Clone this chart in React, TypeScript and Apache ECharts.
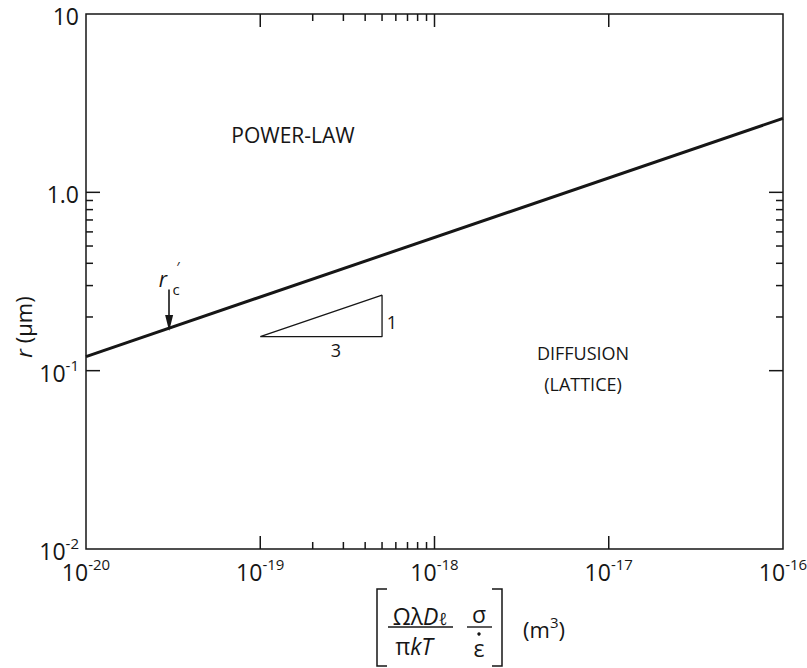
import React, { useEffect, useRef } from "react";
import * as echarts from "echarts";

const X_MIN = 1e-20;
const X_MAX = 1e-16;
const Y_MIN = 1e-2;
const Y_MAX = 10;

// boundary line r'c (slope 1/3 on log-log)
const boundaryLine: [number, number][] = [
  [1e-20, 0.12],
  [1e-16, 2.6],
];

// slope triangle 3 : 1
const slopeTriangle: [number, number][] = [
  [1e-19, 0.155],
  [5e-19, 0.155],
  [5e-19, 0.265],
  [1e-19, 0.155],
];

// arrow marking r'c
const arrowStart: [number, number] = [3e-20, 0.285];
const arrowEnd: [number, number] = [3e-20, 0.185];

const xMajorTicks = [1e-19, 1e-18, 1e-17];
const xMinorTicks = [2e-19, 3e-19, 4e-19, 5e-19, 6e-19, 7e-19, 8e-19, 9e-19];
const yMajorTicks = [0.1, 1];
const yMinorTicks = [0.2, 0.3, 0.4, 0.5, 0.6, 0.7, 0.8, 0.9];

const INK = "#161616";
const FONT = "Open Sans";

function tickSeries(values: number[], axis: "x" | "y", len: number) {
  return {
    type: "custom",
    silent: true,
    clip: false,
    data: values.map((v) => (axis === "x" ? [v, Y_MIN] : [X_MIN, v])),
    renderItem: (_params: any, api: any) => {
      const lineStyle = { stroke: INK, lineWidth: 1.5 };
      if (axis === "x") {
        const v = api.value(0);
        const b = api.coord([v, Y_MIN]);
        const t = api.coord([v, Y_MAX]);
        return {
          type: "group",
          children: [
            { type: "line", shape: { x1: b[0], y1: b[1], x2: b[0], y2: b[1] - len }, style: lineStyle },
            { type: "line", shape: { x1: t[0], y1: t[1], x2: t[0], y2: t[1] + len }, style: lineStyle },
          ],
        };
      }
      const v = api.value(1);
      const l = api.coord([X_MIN, v]);
      const r = api.coord([X_MAX, v]);
      return {
        type: "group",
        children: [
          { type: "line", shape: { x1: l[0], y1: l[1], x2: l[0] + len, y2: l[1] }, style: lineStyle },
          { type: "line", shape: { x1: r[0], y1: r[1], x2: r[0] - len, y2: r[1] }, style: lineStyle },
        ],
      };
    },
  };
}

const powRich = {
  b: { fontSize: 23, fontFamily: FONT, color: INK, lineHeight: 27, verticalAlign: "bottom" },
  s: { fontSize: 15, fontFamily: FONT, color: INK, lineHeight: 15, verticalAlign: "top" },
};

export default function App() {
  const ref = useRef<HTMLDivElement>(null);

  useEffect(() => {
    if (!ref.current) return;
    const chart = echarts.init(ref.current, undefined, { renderer: "svg" });

    const option: any = {
      animation: false,
      backgroundColor: "#ffffff",
      grid: {
        left: 86,
        right: 24,
        top: 14,
        bottom: 119,
        show: true,
        borderColor: INK,
        borderWidth: 1.5,
        backgroundColor: "transparent",
        outerBoundsMode: "none",
      },
      xAxis: {
        type: "log",
        logBase: 10,
        min: X_MIN,
        max: X_MAX,
        axisLine: { show: false },
        axisTick: { show: false },
        splitLine: { show: false },
        axisLabel: {
          margin: 7,
          formatter: (v: number) => {
            const e = Math.round(Math.log10(v));
            return `{b|10}{s|${e}}`;
          },
          rich: powRich,
        },
      },
      yAxis: {
        type: "log",
        logBase: 10,
        min: Y_MIN,
        max: Y_MAX,
        axisLine: { show: false },
        axisTick: { show: false },
        splitLine: { show: false },
        axisLabel: {
          margin: 7,
          formatter: (v: number) => {
            const e = Math.round(Math.log10(v));
            if (e === 0) return "{b|1.0}";
            if (e === 1) return "{b|10}";
            return `{b|10}{s|${e}}`;
          },
          rich: powRich,
        },
      },
      series: [
        {
          type: "line",
          data: boundaryLine,
          showSymbol: false,
          symbol: "none",
          silent: true,
          lineStyle: { color: INK, width: 3 },
          markLine: {
            silent: true,
            symbol: ["none", "triangle"],
            symbolSize: [8, 16],
            label: { show: false },
            lineStyle: { color: INK, width: 1.6, type: "solid" },
            itemStyle: { color: INK },
            data: [[{ coord: arrowStart }, { coord: arrowEnd }]],
          },
        },
        {
          type: "line",
          data: slopeTriangle,
          showSymbol: false,
          symbol: "none",
          silent: true,
          lineStyle: { color: INK, width: 1.3 },
        },
        tickSeries(xMajorTicks, "x", 13),
        tickSeries(xMinorTicks, "x", 7),
        tickSeries(yMajorTicks, "y", 14),
        tickSeries(yMinorTicks, "y", 7),
      ],
      graphic: [
        // region labels
        { type: "text", x: 293, y: 135, style: { text: "POWER-LAW", font: `21px '${FONT}'`, fill: INK, align: "center", verticalAlign: "middle" } },
        { type: "text", x: 583, y: 353, style: { text: "DIFFUSION", font: `18px '${FONT}'`, fill: INK, align: "center", verticalAlign: "middle" } },
        { type: "text", x: 583, y: 384, style: { text: "(LATTICE)", font: `18px '${FONT}'`, fill: INK, align: "center", verticalAlign: "middle" } },
        // slope labels
        { type: "text", x: 336, y: 350, style: { text: "3", font: `18px '${FONT}'`, fill: INK, align: "center", verticalAlign: "middle" } },
        { type: "text", x: 392, y: 322, style: { text: "1", font: `18px '${FONT}'`, fill: INK, align: "center", verticalAlign: "middle" } },
        // r'c label
        { type: "text", x: 163, y: 279, style: { text: "r", font: `italic 21px '${FONT}'`, fill: INK, align: "center", verticalAlign: "middle" } },
        { type: "text", x: 176, y: 289, style: { text: "c", font: `15px '${FONT}'`, fill: INK, align: "center", verticalAlign: "middle" } },
        { type: "text", x: 178, y: 266, style: { text: "′", font: `14px '${FONT}'`, fill: INK, align: "center", verticalAlign: "middle" } },
        // y axis title
        {
          type: "text",
          x: 23,
          y: 327,
          rotation: Math.PI / 2,
          style: {
            text: "{i|r} (μm)",
            align: "center",
            verticalAlign: "middle",
            fill: INK,
            font: `22px '${FONT}'`,
            rich: {
              i: { font: `italic 22px '${FONT}'`, fill: INK },
            },
          },
        },
        // x axis title: brackets
        { type: "polyline", shape: { points: [[387, 589], [377, 589], [377, 666], [387, 666]] }, style: { stroke: INK, lineWidth: 1.5, fill: "none" } },
        { type: "polyline", shape: { points: [[492, 589], [502, 589], [502, 666], [492, 666]] }, style: { stroke: INK, lineWidth: 1.5, fill: "none" } },
        // first fraction
        {
          type: "text",
          x: 420,
          y: 614,
          style: {
            text: "{n|Ωλ}{i|D}{sub|ℓ}",
            align: "center",
            verticalAlign: "middle",
            rich: {
              n: { font: `23px '${FONT}'`, fill: INK, lineHeight: 26, verticalAlign: "bottom" },
              i: { font: `italic 23px '${FONT}'`, fill: INK, lineHeight: 26, verticalAlign: "bottom" },
              sub: { font: `italic 17px '${FONT}'`, fill: INK, lineHeight: 21, verticalAlign: "bottom" },
            },
          },
        },
        { type: "line", shape: { x1: 388, y1: 627, x2: 453, y2: 627 }, style: { stroke: INK, lineWidth: 1.4 } },
        {
          type: "text",
          x: 414,
          y: 646,
          style: {
            text: "{n|π}{i|kT}",
            align: "center",
            verticalAlign: "middle",
            rich: {
              n: { font: `23px '${FONT}'`, fill: INK },
              i: { font: `italic 23px '${FONT}'`, fill: INK },
            },
          },
        },
        // second fraction
        { type: "text", x: 479, y: 614, style: { text: "σ", font: `23px '${FONT}'`, fill: INK, align: "center", verticalAlign: "middle" } },
        { type: "line", shape: { x1: 467, y1: 627, x2: 492, y2: 627 }, style: { stroke: INK, lineWidth: 1.4 } },
        { type: "text", x: 479, y: 648, style: { text: "ε", font: `23px '${FONT}'`, fill: INK, align: "center", verticalAlign: "middle" } },
        { type: "circle", shape: { cx: 479, cy: 634, r: 1.7 }, style: { fill: INK } },
        // units
        {
          type: "text",
          x: 544,
          y: 627,
          style: {
            text: "{n|(m}{s|3}{n|)}",
            align: "center",
            verticalAlign: "middle",
            rich: {
              n: { font: `22px '${FONT}'`, fill: INK, lineHeight: 26, verticalAlign: "bottom" },
              s: { font: `15px '${FONT}'`, fill: INK, lineHeight: 15, verticalAlign: "top" },
            },
          },
        },
      ],
    };

    chart.setOption(option);
    return () => chart.dispose();
  }, []);

  return (
    <div
      ref={ref}
      style={{ position: "fixed", left: 0, top: 0, width: 807, height: 668, background: "#fff" }}
    />
  );
}
